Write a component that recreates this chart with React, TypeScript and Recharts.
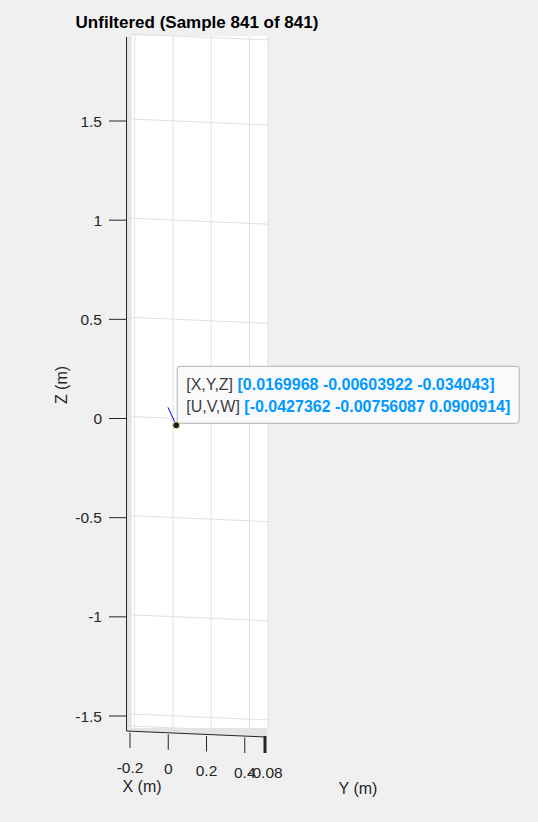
import { ScatterChart, Scatter, XAxis, YAxis, CartesianGrid, ReferenceLine } from "recharts";

const titleText = "Unfiltered (Sample 841 of 841)";
const xTicks = [-0.2, 0, 0.2, 0.4];
const zTicks = [-1.5, -1, -0.5, 0, 0.5, 1, 1.5];
const yTickLabels = ["-0.08"];
const pointXYZ = [0.0169968, -0.00603922, -0.034043];
const vectorUVW = [-0.0427362, -0.00756087, 0.0900914];

const FONT = "'Liberation Sans', Arial, Helvetica, sans-serif";
const AXIS = "#262626";
const GRID = "#e1e1e1";
const TICK_FS = 15.5;

const fmt = (v: number) => Number(v.toPrecision(6)).toString();

const points = [{ x: pointXYZ[0], z: pointXYZ[2] }];
const arrow = [
  { x: pointXYZ[0], y: pointXYZ[2] },
  { x: pointXYZ[0] + vectorUVW[0], y: pointXYZ[2] + vectorUVW[2] },
];

// bottom edge of the box leans down a bit to the right (3d view)
const SLOPE = 0.043;

function ZTick(props: any) {
  const { x, y, payload } = props;
  return (
    <g>
      <line x1={x - 4.5} y1={y} x2={x - 22} y2={y} stroke={AXIS} />
      <text x={x - 29} y={y + 5.5} textAnchor="end" fontSize={TICK_FS} fill={AXIS} fontFamily={FONT}>
        {payload.value}
      </text>
    </g>
  );
}

function XTick(props: any) {
  const { x, payload } = props;
  const fx = x - 4.7;
  const base = 731 + (fx - 126.5) * SLOPE;
  return (
    <g>
      <line x1={fx} y1={base + 1.5} x2={fx} y2={base + 17} stroke={AXIS} />
      <text x={fx} y={base + 41.5} textAnchor="middle" fontSize={TICK_FS} fill={AXIS} fontFamily={FONT}>
        {payload.value}
      </text>
    </g>
  );
}

function DataTip(props: any) {
  const { cx, cy } = props;
  return (
    <g fontFamily={FONT} fontSize={16}>
      <rect x={cx + 1} y={cy - 59} width={342} height={57} rx={3} fill="#fafafd" stroke="#b0b0b0" />
      <text x={cx + 10} y={cy - 35}>
        <tspan fill="#404040">[X,Y,Z] </tspan>
        <tspan fill="#0099ff" fontWeight="bold">[{pointXYZ.map(fmt).join(" ")}]</tspan>
      </text>
      <text x={cx + 10} y={cy - 13}>
        <tspan fill="#404040">[U,V,W] </tspan>
        <tspan fill="#0099ff" fontWeight="bold">[{vectorUVW.map(fmt).join(" ")}]</tspan>
      </text>
      <circle cx={cx} cy={cy} r={3.5} fill="#1a1a1a" stroke="#f2f2a0" strokeWidth={1} />
    </g>
  );
}

const gridH = (p: any) => (
  <line key={p.key} x1={p.x1} y1={p.y1 - 2} x2={p.x2} y2={p.y2 + 4} stroke={GRID} />
);

export default function App() {
  return (
    <div style={{ position: "absolute", left: 0, top: 0, width: 538, height: 822, background: "#f0f0f0" }}>
      <ScatterChart width={538} height={822} margin={{ top: 36, right: 270, bottom: 54, left: 71 }}>
        <CartesianGrid fill="#ffffff" stroke={GRID} horizontal={gridH} />
        <XAxis
          dataKey="x"
          type="number"
          domain={[-0.2193, 0.4968]}
          ticks={xTicks}
          interval={0}
          axisLine={false}
          tickLine={false}
          tickSize={0}
          tickMargin={0}
          height={40}
          tick={<XTick />}
        />
        <YAxis
          dataKey="z"
          type="number"
          domain={[-1.5605, 1.9286]}
          ticks={zTicks}
          interval={0}
          axisLine={false}
          tickLine={false}
          tickSize={0}
          tickMargin={0}
          width={60}
          tick={<ZTick />}
        />
        <ReferenceLine segment={arrow} stroke="#0000ff" strokeWidth={1} />
        <Scatter data={points} shape={<DataTip />} isAnimationActive={false} />
      </ScatterChart>
      <svg width={538} height={822} style={{ position: "absolute", left: 0, top: 0, pointerEvents: "none" }}>
        {/* side wall and floor of the 3d box */}
        <rect x={127} y={37} width={4} height={692} fill="#e4e4e4" />
        <polygon points="127,728 268,728 266,737 127,731" fill="#e4e4e4" />
        <line x1={126.5} y1={37} x2={126.5} y2={731} stroke={AXIS} />
        <line x1={126.5} y1={731} x2={266} y2={737} stroke={AXIS} />
        <line x1={265} y1={736} x2={265} y2={753} stroke={AXIS} strokeWidth={3} />
        <text x={265} y={778} textAnchor="middle" fontSize={TICK_FS} fill={AXIS} fontFamily={FONT}>
          {yTickLabels[0]}
        </text>
        <text x={197} y={28} textAnchor="middle" fontSize={17} fontWeight="bold" fill="#000" fontFamily={FONT}>
          {titleText}
        </text>
        <text x={142} y={792} textAnchor="middle" fontSize={16} fill={AXIS} fontFamily={FONT}>
          X (m)
        </text>
        <text x={358} y={794} textAnchor="middle" fontSize={16} fill={AXIS} fontFamily={FONT}>
          Y (m)
        </text>
        <text
          x={61}
          y={385}
          textAnchor="middle"
          dominantBaseline="central"
          fontSize={16}
          fill={AXIS}
          fontFamily={FONT}
          transform="rotate(-90 61 385)"
        >
          Z (m)
        </text>
      </svg>
    </div>
  );
}
